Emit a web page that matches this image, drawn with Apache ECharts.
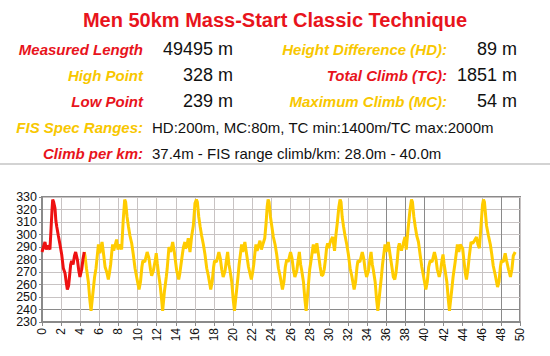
<!DOCTYPE html>
<html>
<head>
<meta charset="utf-8">
<script src="https://cdn.jsdelivr.net/npm/echarts@6/dist/echarts.min.js"></script>
<style>
html,body{margin:0;padding:0;background:#fff;}
#chart{width:550px;height:356px;}
</style>
</head>
<body>
<div id="chart"></div>
<script>
// ---- Data (km, elevation m) ----
const redStart = [[0.00,286],[0.15,290],[0.31,294],[0.45,288],[0.58,291],[0.70,290],[0.83,288],[0.95,305],[1.05,320],[1.12,328],[1.22,326],[1.36,321],[1.45,311],[1.55,306],[1.71,299],[1.88,292],[2.06,284],[2.23,273],[2.41,269],[2.55,261],[2.65,256],[2.78,259],[2.86,265],[3.00,276],[3.10,279],[3.25,276],[3.40,283],[3.52,286],[3.70,280],[3.85,271],[3.97,266],[4.15,272],[4.30,281],[4.42,286]];

const lap1Rest = [[4.42,286],[4.50,283],[4.65,273],[4.85,262],[5.00,248],[5.13,239],[5.35,255],[5.50,266],[5.65,273],[5.90,292],[6.05,285],[6.28,294],[6.40,287],[6.60,274],[6.77,270],[6.94,264],[7.05,269],[7.18,276],[7.30,286],[7.39,292],[7.45,289]];

const lap2 = [[7.50,287],[7.80,296],[7.95,288],[8.10,292],[8.33,288],[8.50,312],[8.65,328],[8.75,326],[8.90,314],[9.05,306],[9.20,299],[9.38,293],[9.55,284],[9.73,273],[9.90,266],[10.15,256],[10.30,262],[10.45,274],[10.55,279],[10.75,278],[11.00,286],[11.19,281],[11.35,272],[11.47,267],[11.65,271],[11.86,280],[11.95,285],[12.06,277],[12.20,268],[12.35,260],[12.50,249],[12.62,239],[12.80,254],[13.00,266],[13.10,273],[13.28,290],[13.46,286],[13.67,294],[13.84,286],[14.09,271],[14.30,264],[14.40,268],[14.54,276],[14.70,285],[14.80,290],[14.95,294]];

const lap3 = [[15.00,289],[15.13,290],[15.30,297],[15.48,286],[15.66,299],[15.83,307],[16.00,325],[16.15,328],[16.25,326],[16.40,314],[16.55,306],[16.70,299],[16.88,292],[17.05,284],[17.23,273],[17.40,267],[17.65,256],[17.80,262],[17.95,274],[18.05,279],[18.25,278],[18.50,286],[18.65,281],[18.80,272],[18.95,266],[19.15,271],[19.30,280],[19.42,286],[19.55,276],[19.65,272],[19.85,262],[20.00,248],[20.13,239],[20.35,255],[20.50,266],[20.62,276],[20.88,292],[21.00,286],[21.22,294],[21.35,287],[21.60,274],[21.75,269],[21.90,264],[22.02,269],[22.15,276],[22.28,286],[22.38,292],[22.45,289]];

const lap4 = [[22.50,287],[22.80,295],[22.95,288],[23.10,292],[23.30,297],[23.45,310],[23.55,322],[23.65,328],[23.75,326],[23.90,314],[24.05,306],[24.20,298],[24.38,292],[24.55,284],[24.73,273],[24.90,267],[25.15,256],[25.30,262],[25.45,274],[25.60,280],[25.75,278],[26.00,286],[26.15,281],[26.30,272],[26.45,266],[26.65,271],[26.80,280],[26.92,286],[27.05,276],[27.15,272],[27.35,262],[27.50,248],[27.63,239],[27.85,258],[28.00,272],[28.12,278],[28.38,292],[28.55,285],[28.75,293],[28.90,285],[29.10,274],[29.25,267],[29.40,268],[29.52,272],[29.65,280],[29.78,290],[29.88,293],[29.95,291]];

const lap5 = [[30.00,289],[30.15,294],[30.40,298],[30.60,287],[30.75,300],[30.90,310],[31.05,322],[31.18,328],[31.28,326],[31.40,314],[31.55,306],[31.70,299],[31.88,292],[32.05,284],[32.23,273],[32.40,267],[32.65,256],[32.80,262],[32.95,274],[33.05,279],[33.25,278],[33.50,286],[33.65,281],[33.80,272],[33.95,266],[34.15,271],[34.30,280],[34.42,286],[34.55,276],[34.65,272],[34.85,262],[35.00,248],[35.13,239],[35.35,255],[35.50,266],[35.62,276],[35.88,292],[36.00,286],[36.22,294],[36.35,287],[36.60,274],[36.75,266],[36.90,264],[37.02,269],[37.15,278],[37.28,290],[37.38,293],[37.45,289]];

const lap6 = [[37.50,290],[37.60,287],[37.80,293],[37.97,298],[38.10,288],[38.30,305],[38.50,320],[38.65,328],[38.75,326],[38.90,314],[39.05,306],[39.20,299],[39.38,294],[39.55,284],[39.73,274],[39.90,267],[40.15,256],[40.30,262],[40.45,274],[40.60,279],[40.80,278],[41.05,286],[41.20,281],[41.35,272],[41.55,266],[41.70,271],[41.85,280],[41.95,284],[42.05,277],[42.15,272],[42.35,262],[42.50,248],[42.62,239],[42.85,255],[43.00,266],[43.20,277],[43.45,292],[43.60,286],[43.75,292],[44.00,289],[44.15,278],[44.30,268],[44.40,264],[44.55,272],[44.70,283],[44.88,294],[45.00,293]];

const lap7 = [[45.00,293],[45.15,294],[45.45,298],[45.60,292],[45.75,289],[45.95,310],[46.08,324],[46.18,328],[46.28,326],[46.50,307],[46.70,299],[46.90,292],[47.05,284],[47.20,275],[47.40,268],[47.65,258],[47.80,262],[47.95,274],[48.05,279],[48.25,278],[48.45,285],[48.60,279],[48.80,272],[49.00,266],[49.15,272],[49.30,283],[49.50,286]];

const xTicks = {min: 0, max: 50, step: 2};
const yTicks = {min: 230, max: 330, step: 10};

const titleText = 'Men 50km Mass-Start Classic Technique';
const leftLabels = ['Measured Length', 'High Point', 'Low Point'];
const leftValues = ['49495 m', '328 m', '239 m'];
const rightLabels = ['Height Difference (HD):', 'Total Climb (TC):', 'Maximum Climb (MC):'];
const rightValues = ['89 m', '1851 m', '54 m'];
const specLabel = 'FIS Spec Ranges:';
const specValue = 'HD:200m, MC:80m, TC min:1400m/TC max:2000m';
const climbLabel = 'Climb per km:';
const climbValue = '37.4m - FIS range climb/km: 28.0m - 40.0m';

// ---- Styling ----
const RED = '#e8141c';
const YEL = '#f8c700';
const LINE_RED = '#ee1111';
const LINE_YEL = '#ffcc00';
const FONT = '"Liberation Sans", Arial, Helvetica, sans-serif';
const GRID_LIGHT = '#c8c3c3';
const GRID_DARK = '#8a8a8a';

const leftLabelColors = [RED, YEL, RED];
const rightLabelColors = [YEL, RED, YEL];

const yellowData = [].concat(lap1Rest, lap2, lap3, lap4, lap5, lap6, lap7);

const xSplitColors = [];
for (let v = xTicks.min; v <= xTicks.max; v += xTicks.step) {
  xSplitColors.push([36, 38, 40, 48].indexOf(v) >= 0 ? GRID_DARK : GRID_LIGHT);
}
const ySplitColors = [];
for (let v = yTicks.min; v <= yTicks.max; v += yTicks.step) {
  ySplitColors.push(v === 240 ? GRID_DARK : GRID_LIGHT);
}

const rowY = [49, 75, 101];
const graphics = [];
graphics.push({type: 'text', x: 275, y: 20, style: {text: titleText, font: 'bold 20px ' + FONT, fill: RED, textAlign: 'center', textVerticalAlign: 'middle'}});
for (let i = 0; i < 3; i++) {
  graphics.push({type: 'text', x: 143, y: rowY[i], style: {text: leftLabels[i], font: 'italic bold 15px ' + FONT, fill: leftLabelColors[i], textAlign: 'right', textVerticalAlign: 'middle'}});
  graphics.push({type: 'text', x: 233, y: rowY[i], style: {text: leftValues[i], font: '18px ' + FONT, fill: '#111', textAlign: 'right', textVerticalAlign: 'middle'}});
  graphics.push({type: 'text', x: 447, y: rowY[i], style: {text: rightLabels[i], font: 'italic bold 15px ' + FONT, fill: rightLabelColors[i], textAlign: 'right', textVerticalAlign: 'middle'}});
  graphics.push({type: 'text', x: 517, y: rowY[i], style: {text: rightValues[i], font: '18px ' + FONT, fill: '#111', textAlign: 'right', textVerticalAlign: 'middle'}});
}
graphics.push({type: 'text', x: 143, y: 127, style: {text: specLabel, font: 'italic bold 15px ' + FONT, fill: YEL, textAlign: 'right', textVerticalAlign: 'middle'}});
graphics.push({type: 'text', x: 152, y: 127, style: {text: specValue, font: '15px ' + FONT, fill: '#111', textAlign: 'left', textVerticalAlign: 'middle'}});
graphics.push({type: 'text', x: 143, y: 153, style: {text: climbLabel, font: 'italic bold 15px ' + FONT, fill: RED, textAlign: 'right', textVerticalAlign: 'middle'}});
graphics.push({type: 'text', x: 152, y: 153, style: {text: climbValue, font: '15px ' + FONT, fill: '#111', textAlign: 'left', textVerticalAlign: 'middle'}});
graphics.push({type: 'line', shape: {x1: 0, y1: 164, x2: 550, y2: 164}, style: {stroke: '#c4c4c4', lineWidth: 1.5}});

const yLabelBase = {fontSize: 12.5, color: '#111', margin: 5, fontFamily: FONT, showMinLabel: true, showMaxLabel: true};

const chart = echarts.init(document.getElementById('chart'), null, {renderer: 'svg'});
chart.setOption({
  animation: false,
  backgroundColor: '#ffffff',
  textStyle: {fontFamily: FONT},
  grid: {left: 42, right: 30, top: 197, bottom: 34, show: true, borderColor: '#8a8a8a', borderWidth: 2, backgroundColor: 'transparent'},
  xAxis: {
    type: 'value', min: xTicks.min, max: xTicks.max, interval: xTicks.step,
    axisLine: {show: true, lineStyle: {color: '#8a8a8a', width: 2}},
    axisTick: {show: true, length: 4, lineStyle: {color: '#8a8a8a'}},
    axisLabel: {rotate: 90, fontSize: 12, color: '#111', margin: 6, fontFamily: FONT, showMinLabel: true, showMaxLabel: true},
    splitLine: {show: true, lineStyle: {color: xSplitColors, width: 1}}
  },
  yAxis: [
    {
      type: 'value', min: yTicks.min, max: yTicks.max, interval: yTicks.step, position: 'left',
      axisLine: {show: true, lineStyle: {color: '#8a8a8a', width: 2}},
      axisTick: {show: true, length: 3, lineStyle: {color: '#8a8a8a'}},
      axisLabel: Object.assign({}, yLabelBase, {formatter: function (v) { return ((v - yTicks.min) / yTicks.step) % 2 === 0 ? String(v) : ''; }}),
      splitLine: {show: true, lineStyle: {color: ySplitColors, width: 1}}
    },
    {
      type: 'value', min: yTicks.min, max: yTicks.max, interval: yTicks.step, position: 'left', offset: 0,
      axisLine: {show: false}, axisTick: {show: false}, splitLine: {show: false},
      axisLabel: Object.assign({}, yLabelBase, {formatter: function (v) { return ((v - yTicks.min) / yTicks.step) % 2 === 1 ? String(v) : ''; }})
    }
  ],
  series: [
    {type: 'line', data: yellowData, showSymbol: false, lineStyle: {color: LINE_YEL, width: 3}, z: 3},
    {type: 'line', data: redStart, showSymbol: false, lineStyle: {color: LINE_RED, width: 3}, z: 4}
  ],
  graphic: graphics
});
</script>
</body>
</html>
